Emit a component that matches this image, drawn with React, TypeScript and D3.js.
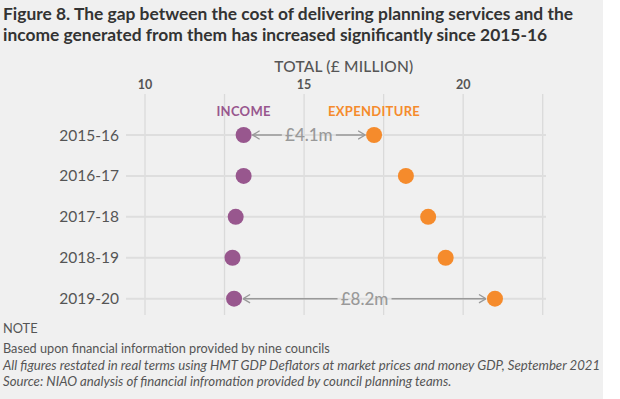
import React from 'react';
import * as d3 from 'd3';

const years = ['2015-16', '2016-17', '2017-18', '2018-19', '2019-20'];
const income = [13.1, 13.1, 12.85, 12.75, 12.8];
const expenditure = [17.2, 18.2, 18.9, 19.45, 21.0];
const xTicks = [10, 15, 20];
const gridValues = [10, 12.5, 15, 17.5, 20, 22.5];
// gap annotations: [row index, label]
const gaps: [number, string][] = [[0, '£4.1m'], [4, '£8.2m']];
const titleLines = [
    'Figure 8.  The gap between the cost of delivering planning services and the',
    'income generated from them has increased significantly since 2015-16'
];
const noteLines = [
    'Based upon financial information provided by nine councils',
    'All figures restated in real terms using HMT GDP Deflators at market prices and money GDP, September 2021',
    'Source: NIAO analysis of financial infromation provided by council planning teams.'
];

const W = 620;
const H = 399;
const PURPLE = '#98578e';
const ORANGE = '#f58b2c';
const GREY_TEXT = '#555';
const FONT = 'Lato, sans-serif';

const App = () => {
    const x = d3.scaleLinear().domain([10, 22.5]).range([145, 542.7]);
    const y = d3.scalePoint().domain(years).range([135, 298.7]);
    const r = 8;

    return (
        <svg width={W} height={H} style={{ display: 'block', position: 'absolute', left: 0, top: 0 }}
            fontFamily={FONT}>
            <defs>
                <marker id="arr" viewBox="0 0 8 10" refX="7.5" refY="5" markerWidth="8" markerHeight="10"
                    markerUnits="userSpaceOnUse" orient="auto">
                    <path d="M0.5,0.8 L7.5,5 L0.5,9.2" fill="none" stroke="#999" strokeWidth="1.3" />
                </marker>
            </defs>
            <rect x={0} y={0} width={603} height={H} fill="#f0f0f0" />

            {/* title */}
            {titleLines.map((t, i) => (
                <text key={t} x={3} y={20 + i * 21} fontSize={17.4} fontWeight={700} fill="#333">{t}</text>
            ))}

            {/* axis title and ticks */}
            <text x={(x(10) + x(22.5)) / 2} y={72} textAnchor="middle" fontSize={15.5} fontWeight={500}
                fill={GREY_TEXT} letterSpacing={0.2}>TOTAL (£ MILLION)</text>
            {xTicks.map(t => (
                <text key={t} x={x(t)} y={89} textAnchor="middle" fontSize={12.5} fontWeight={700}
                    fill={GREY_TEXT}>{t}</text>
            ))}

            {/* grid */}
            {gridValues.map(v => (
                <line key={v} x1={x(v)} x2={x(v)} y1={94} y2={315} stroke="#dadada" strokeWidth={1.3} />
            ))}
            {years.map(yr => (
                <line key={yr} x1={126} x2={546} y1={y(yr)} y2={y(yr)} stroke="#dedede" strokeWidth={2} />
            ))}

            {/* year labels */}
            {years.map(yr => (
                <text key={yr} x={119} y={(y(yr) as number) + 5.5} textAnchor="end" fontSize={15.5}
                    fill={GREY_TEXT}>{yr}</text>
            ))}

            {/* series labels */}
            <text x={x(income[0])} y={116} textAnchor="middle" fontSize={13} fontWeight={700}
                fill={PURPLE} letterSpacing={0.3}>INCOME</text>
            <text x={x(expenditure[0])} y={116} textAnchor="middle" fontSize={13} fontWeight={700}
                fill={ORANGE} letterSpacing={0.3}>EXPENDITURE</text>

            {/* gap annotations */}
            {gaps.map(([i, label]) => {
                const x0 = x(income[i]);
                const x1 = x(expenditure[i]);
                const cy = y(years[i]) as number;
                const mid = (x0 + x1) / 2;
                const half = 27;
                return (
                    <g key={label}>
                        <line x1={mid - half} x2={x0 + r + 1} y1={cy} y2={cy} stroke="#999" strokeWidth={1.5}
                            markerEnd="url(#arr)" />
                        <line x1={mid + half} x2={x1 - r - 1} y1={cy} y2={cy} stroke="#999" strokeWidth={1.5}
                            markerEnd="url(#arr)" />
                        <text x={mid} y={cy + 6} textAnchor="middle" fontSize={17} fontWeight={500}
                            fill="#999">{label}</text>
                    </g>
                );
            })}

            {/* dots */}
            {years.map((yr, i) => (
                <g key={yr}>
                    <circle cx={x(income[i])} cy={y(yr)} r={r} fill={PURPLE} />
                    <circle cx={x(expenditure[i])} cy={y(yr)} r={r} fill={ORANGE} />
                </g>
            ))}

            {/* notes */}
            <text x={3} y={333} fontSize={12.8} fill={GREY_TEXT}>NOTE</text>
            {noteLines.map((t, i) => (
                <text key={t} x={3} y={353 + i * 16.5} fontSize={i === 0 ? 12.7 : 13.2} fill={GREY_TEXT}
                    fontStyle={i === 0 ? 'normal' : 'italic'}>{t}</text>
            ))}
        </svg>
    );
};

export default App;
